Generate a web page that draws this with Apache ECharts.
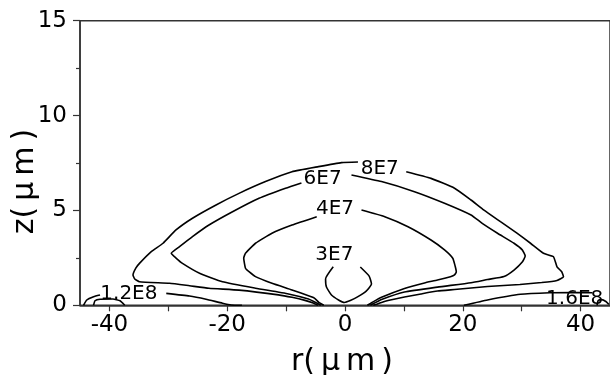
<!DOCTYPE html>
<html>
<head>
<meta charset="utf-8">
<script src="https://cdn.jsdelivr.net/npm/echarts@6/dist/echarts.min.js"></script>
<style>
  html, body { margin: 0; padding: 0; background: #fff; }
  #chart { width: 610px; height: 375px; }
</style>
</head>
<body>
<div id="chart"></div>
<script>
// Axis ticks and labels
const xTickValues = [-40, -30, -20, -10, 0, 10, 20, 30, 40];
const xLabelValues = [-40, -20, 0, 20, 40];

// Contour polylines, [r (µm), z (µm)]; gaps are left where the level labels sit
const c8E7Left = [[-4.6,0],[-5.4,0.12],[-6.8,0.26],[-9.0,0.42],[-11.3,0.55],[-18.0,0.80],[-23.1,0.90],[-26.4,1.03],[-29.8,1.16],[-34.9,1.24],[-35.7,1.39],[-36.0,1.60],[-35.5,1.97],[-34.9,2.21],[-32.9,2.83],[-30.9,3.27],[-28.7,3.97],[-25.9,4.59],[-21.9,5.29],[-18.0,5.90],[-13.5,6.52],[-9.0,7.04],[-4.5,7.31],[-0.6,7.52],[2.2,7.55]];
const c8E7Right = [[10.4,7.04],[14.6,6.69],[18.6,6.17],[21.4,5.55],[23.6,5.02],[26.4,4.41],[29.2,3.80],[31.5,3.27],[33.7,2.74],[35.4,2.56],[36.0,2.03],[36.8,1.77],[37.1,1.51],[36.0,1.31],[33.4,1.20],[29.7,1.10],[24.2,0.99],[18.6,0.83],[15.7,0.75],[12.9,0.60],[10.1,0.44],[7.3,0.25],[6.2,0.15],[5.4,0.06],[4.8,0]];
const c6E7Left = [[-4.1,0],[-4.8,0.12],[-6.2,0.33],[-9.6,0.60],[-15.2,0.90],[-20.8,1.24],[-24.7,1.69],[-27.6,2.21],[-28.7,2.49],[-29.5,2.74],[-28.1,3.09],[-25.9,3.62],[-23.1,4.23],[-19.1,4.93],[-14.6,5.64],[-10.1,6.17],[-7.4,6.45]];
const c6E7Right = [[1.1,6.87],[6.2,6.52],[11.8,5.99],[16.9,5.38],[21.4,4.76],[23.3,4.32],[25.9,3.80],[28.7,3.27],[30.1,2.92],[30.6,2.60],[30.1,2.28],[28.7,1.86],[27.0,1.52],[24.2,1.36],[21.4,1.19],[15.7,0.96],[10.1,0.70],[6.2,0.31],[5.0,0.12],[4.3,0]];
const c4E7Left = [[-3.6,0],[-4.4,0.14],[-5.2,0.38],[-6.2,0.50],[-9.0,0.81],[-12.4,1.16],[-15.2,1.51],[-16.3,1.77],[-16.9,1.95],[-17.2,2.49],[-16.9,2.74],[-15.2,3.27],[-12.4,3.80],[-9.0,4.23],[-4.8,4.67]];
const c4E7Right = [[2.8,5.02],[6.75,4.67],[10.7,4.14],[14.6,3.44],[16.9,2.92],[18.3,2.48],[18.7,2.07],[18.9,1.76],[18.6,1.60],[17.9,1.51],[15.7,1.33],[13.5,1.18],[10.1,0.89],[6.2,0.42],[4.6,0.15],[3.8,0]];
const c3E7 = [[-2.0,2.03],[-3.3,1.39],[-3.15,0.96],[-2.3,0.54],[-1.1,0.28],[-0.1,0.15],[0.9,0.25],[2.2,0.46],[3.6,0.75],[4.5,1.12],[4.1,1.54],[2.6,2.02]];
const c12E8LeftEdge = [[-44.4,0],[-43.85,0.28],[-42.7,0.45],[-41.6,0.54]];
const c12E8Left = [[-30.35,0.63],[-26.4,0.49],[-23.6,0.32],[-20.8,0.11],[-19.3,0.02],[-17.5,0]];
const c12E8Right = [[20.2,0],[24.2,0.28],[29.8,0.58],[34.8,0.66],[38.5,0.67],[42.0,0.66]];
const c16E8Left = [[-42.7,0],[-42.45,0.24],[-41.6,0.32],[-39.4,0.33],[-38.2,0.24],[-37.4,0]];
const c16E8Right = [[42.8,0],[43.0,0.25],[43.6,0.30],[44.3,0.20],[44.8,0.05]];

// Level labels: [r, z, text]
const contourLabels = [
  [5.9, 7.22, '8E7'],
  [-3.8, 6.65, '6E7'],
  [-1.7, 5.11, '4E7'],
  [-1.8, 2.65, '3E7'],
  [-36.7, 0.59, '1.2E8'],
  [39.0, 0.33, '1.6E8']
];

const FONT = 'DejaVu Sans';
const AXIS_COLOR = '#333';

const pieces = [c8E7Left, c8E7Right, c6E7Left, c6E7Right, c4E7Left, c4E7Right,
  c3E7, c12E8LeftEdge, c12E8Left, c12E8Right, c16E8Left, c16E8Right];

const lineSeries = pieces.map(d => ({
  type: 'line',
  data: d,
  showSymbol: false,
  symbol: 'none',
  smooth: 0.15,
  lineStyle: { color: '#000', width: 1.6 },
  silent: true,
  animation: false
}));

const labelSeries = {
  type: 'scatter',
  data: contourLabels.map(l => ({ value: [l[0], l[1]], name: l[2] })),
  symbolSize: 0,
  itemStyle: { color: '#000', opacity: 1 },
  label: {
    show: true,
    position: 'inside',
    formatter: p => p.name,
    fontFamily: FONT,
    fontSize: 20,
    color: '#000',
    opacity: 1,
    textBorderWidth: 0
  },
  labelLayout: { hideOverlap: false },
  clip: false,
  silent: true,
  animation: false
};

const chart = echarts.init(document.getElementById('chart'), null, { renderer: 'canvas' });
chart.setOption({
  backgroundColor: '#fff',
  animation: false,
  grid: {
    left: 80, top: 20.7, width: 533.7, height: 284.6,
    show: true, borderColor: AXIS_COLOR, borderWidth: 1.5, backgroundColor: 'transparent'
  },
  xAxis: {
    type: 'value', min: -45, max: 45,
    axisLine: { show: true, onZero: false, lineStyle: { color: AXIS_COLOR, width: 1.5 } },
    axisTick: { show: true, inside: false, length: 6, customValues: xTickValues,
      lineStyle: { color: AXIS_COLOR, width: 1.2 } },
    axisLabel: { customValues: xLabelValues, fontFamily: FONT, fontSize: 23, color: '#000', margin: 8 },
    splitLine: { show: false }
  },
  yAxis: {
    type: 'value', min: 0, max: 15, interval: 5,
    axisLine: { show: true, onZero: false, lineStyle: { color: AXIS_COLOR, width: 1.5 } },
    axisTick: { show: true, inside: false, length: 7, lineStyle: { color: AXIS_COLOR, width: 1.2 } },
    minorTick: { show: true, splitNumber: 2, length: 4, lineStyle: { color: AXIS_COLOR, width: 1.2 } },
    axisLabel: { fontFamily: FONT, fontSize: 23, color: '#000', margin: 13 },
    splitLine: { show: false }
  },
  graphic: [
    { type: 'text', x: 342, y: 362,
      style: { text: 'r(\u2009μ\u2009m\u2009)', fontFamily: FONT, fontSize: 30, fill: '#000', align: 'center', verticalAlign: 'middle' } },
    { type: 'text', x: 25, y: 181.5, rotation: Math.PI / 2,
      style: { text: 'z(\u2009μ\u2009m\u2009)', fontFamily: FONT, fontSize: 30, fill: '#000', align: 'center', verticalAlign: 'middle' } }
  ],
  series: lineSeries.concat([labelSeries])
});
</script>
</body>
</html>
